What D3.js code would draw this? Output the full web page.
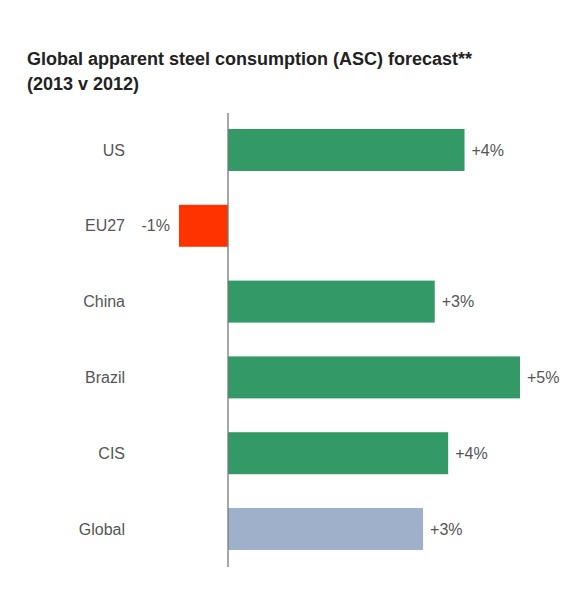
<!DOCTYPE html>
<html>
<head>
<meta charset="utf-8">
<script src="https://cdn.jsdelivr.net/npm/d3@7"></script>
<style>
body { margin: 0; background: #fff; }
svg { font-family: "Liberation Sans", Arial, Helvetica, sans-serif; }
</style>
</head>
<body>
<svg></svg>
<script>
var width = 580;
var height = 600;

var titleLines = ["Global apparent steel consumption (ASC) forecast**", "(2013 v 2012)"];
var regions = ["US", "EU27", "China", "Brazil", "CIS", "Global"];
var growth = [4.05, -0.84, 3.54, 5.0, 3.77, 3.34];
var growthLabels = ["+4%", "-1%", "+3%", "+5%", "+4%", "+3%"];
var barColors = ["#339966", "#ff3300", "#339966", "#339966", "#339966", "#9fb1ca"];

var svg = d3.select("svg")
    .attr("width", width)
    .attr("height", height);

// title
svg.append("text")
    .attr("x", 27)
    .attr("y", 65)
    .style("font-weight", "bold")
    .style("font-size", "18px")
    .style("fill", "#222")
    .selectAll("tspan")
    .data(titleLines)
    .enter().append("tspan")
    .attr("x", 27)
    .attr("dy", function(d, i) { return i == 0 ? 0 : 25; })
    .text(function(d) { return d; });

var x = d3.scaleLinear().domain([-1, 5.5]).range([169.6, 549.2]);
var y = d3.scaleBand().domain(regions).range([112, 567]).paddingInner(0.446).paddingOuter(0.224);

var data = regions.map(function(r, i) {
    return { name: r, v: growth[i], label: growthLabels[i], color: barColors[i] };
});

svg.selectAll("rect.bar")
    .data(data)
    .enter().append("rect")
    .attr("class", "bar")
    .attr("x", function(d) { return x(Math.min(0, d.v)); })
    .attr("y", function(d) { return y(d.name); })
    .attr("width", function(d) { return Math.abs(x(d.v) - x(0)); })
    .attr("height", y.bandwidth())
    .attr("fill", function(d) { return d.color; });

// zero line
svg.append("line")
    .attr("x1", x(0)).attr("x2", x(0))
    .attr("y1", 113).attr("y2", 567)
    .attr("stroke", "#777")
    .attr("stroke-width", 1.3);

// category labels
svg.selectAll("text.cat")
    .data(data)
    .enter().append("text")
    .attr("class", "cat")
    .attr("x", 125)
    .attr("y", function(d) { return y(d.name) + y.bandwidth() / 2; })
    .attr("dy", "0.35em")
    .attr("text-anchor", "end")
    .style("font-size", "16px")
    .style("fill", "#555")
    .text(function(d) { return d.name; });

// value labels
svg.selectAll("text.val")
    .data(data)
    .enter().append("text")
    .attr("class", "val")
    .attr("x", function(d) { return d.v < 0 ? x(d.v) - 9 : x(d.v) + 7; })
    .attr("y", function(d) { return y(d.name) + y.bandwidth() / 2; })
    .attr("dy", "0.35em")
    .attr("text-anchor", function(d) { return d.v < 0 ? "end" : "start"; })
    .style("font-size", "16px")
    .style("fill", "#555")
    .text(function(d) { return d.label; });
</script>
</body>
</html>
